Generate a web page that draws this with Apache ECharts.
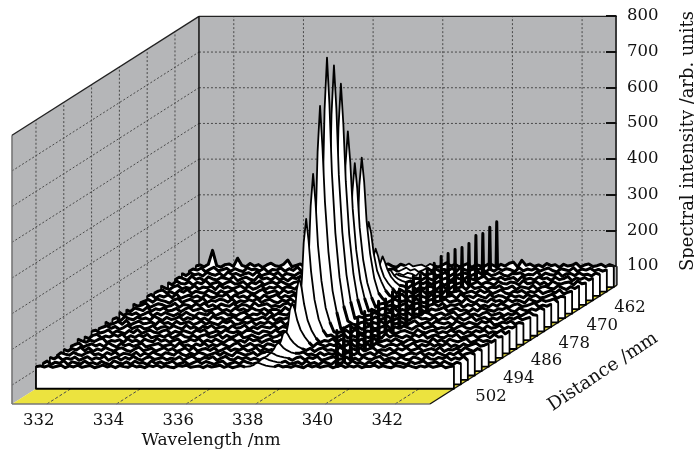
<!DOCTYPE html>
<html><head><meta charset="utf-8">
<style>html,body{margin:0;background:#fff}#c{width:694px;height:455px}</style>
<script src="https://cdn.jsdelivr.net/npm/echarts@6/dist/echarts.min.js"></script>
</head><body><div id="c"></div>
<script>
const wavelengthTicks=[332,334,336,338,340,342];
const intensityTicks=[100,200,300,400,500,600,700,800];
const distanceTicks=[502,494,486,478,470,462];
const distances=[456,458,460,462,464,466,468,470,472,474,476,478,480,482,484,486,488,490,492,494,496,498,500,502];
const wavelengths=[331,331.12,331.24,331.36,331.48,331.6,331.72,331.84,331.96,332.08,332.2,332.32,332.44,332.56,332.68,332.8,332.92,333.04,333.16,333.28,
333.4,333.52,333.64,333.76,333.88,334,334.12,334.24,334.36,334.48,334.6,334.72,334.84,334.96,335.08,335.2,335.32,335.44,335.56,335.68,
335.8,335.92,336.04,336.16,336.28,336.4,336.52,336.64,336.76,336.88,337,337.12,337.24,337.36,337.48,337.6,337.72,337.84,337.96,338.08,
338.2,338.32,338.44,338.56,338.68,338.8,338.92,339.04,339.16,339.28,339.4,339.52,339.64,339.76,339.88,340,340.12,340.24,340.36,340.48,
340.6,340.72,340.84,340.96,341.08,341.2,341.32,341.44,341.56,341.68,341.8,341.92,342.04,342.16,342.28,342.4,342.52,342.64,342.76,342.88,343];
const r456=[106,109,104,111,150,107,103,110,112,105,128,108,104,113,106,110,102,109,114,107,105,111,123,104,108,112,103,110,106,115,109,104,107,112,101,109,113,105,111,106,
103,110,108,114,104,109,112,106,102,111,107,113,105,108,110,104,112,107,103,109,115,106,111,104,108,113,102,110,107,105,112,109,104,111,106,114,117,103,122,108,
112,105,109,104,113,107,110,102,111,106,108,114,103,109,112,105,107,111,104,110,106];
const r458=[103,110,107,113,102,109,115,105,108,112,104,111,106,103,114,108,110,105,112,101,109,107,113,104,111,106,116,103,108,110,105,112,107,102,114,109,104,111,106,113,
108,103,110,115,105,107,112,104,109,111,103,108,114,106,110,102,107,113,105,111,104,109,106,112,103,115,108,105,110,107,113,102,109,104,112,106,111,108,103,114,
105,110,107,112,104,109,113,106,102,111,108,105,114,103,110,107,112,105,109,104,108];
const r460=[110,104,112,106,109,103,113,108,105,111,102,114,107,110,104,109,112,105,116,103,108,111,106,113,102,110,107,104,112,109,105,114,103,111,108,106,110,113,102,107,
112,105,109,103,114,108,106,111,104,113,107,102,110,105,112,109,103,115,106,108,111,104,107,113,102,109,105,112,110,103,108,114,106,111,104,107,113,105,102,110,
109,112,104,108,106,115,103,111,107,105,113,102,109,110,104,112,106,108,103,111,107];
const r462=[105,112,108,103,115,106,110,102,113,107,104,111,109,105,114,102,108,112,106,103,116,107,110,104,113,105,109,102,111,108,114,103,106,112,105,110,107,115,102,109,
104,113,108,106,111,103,110,114,105,107,112,102,109,104,106,108,105,113,109,104,111,107,103,114,106,110,102,112,108,105,113,107,104,110,115,103,109,106,112,105,
108,111,102,114,106,109,104,113,107,110,103,112,105,108,114,102,110,106,111,104,109];
const r464=[109,103,114,107,105,112,102,110,106,115,104,108,111,103,109,113,105,107,112,102,110,106,114,103,108,111,105,113,107,102,109,112,104,110,106,116,103,108,105,111,
113,102,107,109,104,114,106,111,103,108,112,105,110,102,107,108,109,105,114,103,110,106,112,104,108,113,102,107,111,105,109,114,103,106,112,104,110,108,102,113,
107,105,111,109,103,115,106,108,112,104,110,102,113,107,105,109,111,103,114,106,108];
const r466=[112,106,102,110,114,104,108,105,113,103,109,107,112,102,115,106,110,104,108,113,105,111,103,107,114,102,109,106,112,104,110,108,103,115,105,111,107,102,113,106,
109,104,112,108,103,110,115,105,107,111,102,113,106,104,109,107,110,103,112,106,114,102,108,105,111,109,103,113,107,104,112,106,110,102,114,105,108,111,103,109,
107,113,104,106,112,102,110,108,105,114,103,109,111,106,104,113,107,102,110,105,112];
const r468=[104,110,113,105,108,102,112,107,115,103,110,106,104,113,108,102,111,105,109,114,103,107,112,106,102,110,115,104,108,111,103,113,106,109,102,112,105,114,107,103,
110,108,115,102,106,112,104,109,113,105,107,111,103,106,108,110,112,105,103,114,107,110,102,109,113,104,106,111,108,103,115,105,109,112,102,107,110,104,113,106,
111,103,108,114,105,102,110,107,112,104,109,106,113,103,108,111,105,114,102,107,110];
const r470=[108,113,103,110,106,112,104,115,102,107,111,105,109,102,113,106,104,110,108,115,102,112,105,109,103,114,107,101,111,105,108,113,103,110,106,112,104,108,115,102,
107,110,105,113,103,109,112,106,102,114,108,104,111,107,109,105,112,103,110,106,108,114,102,109,105,112,107,103,113,106,110,104,108,111,102,115,106,109,104,112,
107,103,114,105,110,108,102,112,106,109,104,113,107,111,103,105,110,114,102,108,106];
const r472=[102,107,111,104,113,109,106,101,110,114,103,108,112,105,107,115,103,109,106,112,110,104,113,102,108,105,111,107,114,103,109,112,105,102,110,106,113,104,108,111,
103,115,107,105,110,102,109,113,104,108,106,112,103,110,107,111,105,109,114,102,108,112,105,107,110,103,114,106,102,109,112,105,108,113,104,107,110,103,115,106,
102,111,108,104,113,106,109,103,112,105,110,107,102,114,108,104,111,106,109,113,103];
const r474=[111,105,108,114,102,107,112,109,104,106,113,102,110,108,103,112,106,114,104,109,102,111,107,105,113,103,110,108,102,115,106,109,112,104,107,103,111,114,105,108,
102,110,106,113,104,112,107,103,109,111,106,113,105,108,110,112,107,104,102,111,113,105,109,103,107,112,104,110,114,106,102,108,111,105,113,103,109,107,112,102,
110,106,114,104,108,103,111,105,113,107,102,109,112,104,106,110,115,103,108,105,111];
const r476=[107,102,112,109,105,115,103,110,107,113,104,106,111,102,109,114,105,108,112,103,106,110,113,104,108,102,112,106,110,104,113,107,105,111,103,109,108,102,114,106,
110,104,112,108,105,103,113,107,111,102,109,105,112,110,108,106,113,109,104,107,102,110,112,106,114,103,108,105,111,107,113,104,102,110,106,109,114,103,108,112,
105,107,102,111,104,113,109,106,103,110,108,114,105,102,112,107,104,110,106,113,108];
const r478=[113,104,109,106,111,103,108,114,102,110,105,112,107,103,109,104,113,106,102,111,108,105,114,103,109,112,105,107,103,110,113,102,108,106,112,104,115,103,110,107,
105,112,102,109,114,106,104,108,111,103,113,107,110,104,112,105,108,106,110,103,105,112,107,104,110,113,102,109,106,112,104,108,105,113,110,102,107,111,104,109,
114,103,106,112,105,108,102,110,113,104,107,111,103,109,105,112,102,108,114,106,104];
const r480=[105,110,102,113,107,104,112,106,109,103,114,108,102,111,105,107,113,103,110,106,112,104,109,102,114,107,110,103,108,113,105,102,111,109,104,107,112,105,114,102,
109,106,110,103,107,113,105,111,104,108,103,110,112,107,102,109,111,105,108,113,110,103,106,112,104,109,114,102,107,111,105,103,110,113,106,108,104,112,102,109,
106,113,105,110,103,108,114,102,107,111,104,109,105,113,103,110,106,112,104,108,111];
const r482=[110,103,106,112,104,115,102,108,113,105,107,110,103,114,106,109,102,112,105,108,111,103,107,113,104,110,106,102,112,108,114,103,105,110,107,113,102,109,106,111,
104,108,114,102,110,105,112,103,107,109,112,104,108,106,111,103,110,107,113,105,102,108,111,104,109,106,112,103,113,105,107,110,102,108,114,104,106,111,103,112,
108,105,109,102,113,107,104,110,106,103,112,108,114,102,105,110,107,113,104,109,106];
const r484=[103,108,112,105,110,102,107,114,104,109,111,103,106,113,102,108,110,105,112,107,103,114,105,109,102,111,106,113,104,108,110,103,112,105,107,114,102,109,104,111,
108,106,113,103,110,107,102,112,105,114,108,103,110,106,112,104,109,105,103,107,113,105,110,102,108,112,104,106,110,113,103,109,105,112,107,102,110,114,104,108,
112,103,107,105,111,102,109,113,106,104,110,108,102,112,105,107,114,103,109,106,112];
const r486=[109,112,104,107,113,103,110,106,102,111,105,114,103,108,112,106,104,110,113,102,109,105,111,107,103,112,108,114,102,106,110,104,113,107,105,109,103,111,112,106,
102,110,108,104,113,105,109,103,111,107,102,108,113,104,106,110,102,112,107,105,109,111,103,114,106,102,110,107,112,104,108,113,105,103,109,111,106,102,114,107,
104,110,112,103,108,105,113,106,110,102,109,104,111,107,113,103,108,105,112,102,110];
const r488=[106,101,110,113,103,108,105,112,107,114,102,109,104,111,106,113,103,107,110,105,112,102,108,114,106,104,110,103,109,112,105,107,113,102,110,104,108,115,103,106,
111,105,102,109,112,104,107,113,103,110,105,112,108,102,113,106,110,104,108,111,103,107,114,102,109,105,112,106,104,110,108,102,113,105,111,107,103,109,104,112,
106,114,102,108,111,105,103,110,107,113,102,106,109,112,104,108,110,103,113,105,107];
const r490=[112,107,103,109,105,111,114,102,108,106,110,103,113,105,109,102,112,107,104,114,106,110,103,108,112,102,105,111,107,113,103,109,104,112,106,102,110,113,105,108,
103,114,107,110,102,108,112,104,106,111,103,109,113,105,107,110,104,112,102,108,106,113,103,111,107,104,110,105,112,102,108,114,103,106,110,105,113,107,102,109,
112,104,108,106,102,114,105,110,103,112,107,104,109,113,102,106,111,105,108,103,110];
const r492=[104,109,113,102,107,111,105,110,103,114,107,102,112,106,110,104,108,113,102,106,109,112,104,107,110,103,114,105,108,102,111,106,113,103,109,105,112,107,102,110,
114,103,106,112,105,108,102,111,109,104,113,106,102,110,107,112,105,109,103,113,108,104,110,106,112,102,107,114,104,109,105,111,103,113,107,102,108,110,105,112,
103,107,114,102,109,105,112,104,110,106,113,103,108,102,111,105,109,113,104,107,112];
const r494=[108,103,110,106,114,104,112,102,109,105,113,107,103,110,112,105,102,109,114,104,107,111,103,108,113,105,110,102,106,112,104,114,103,108,110,105,112,102,107,113,
104,109,106,111,103,107,113,102,110,105,108,112,104,110,106,103,113,108,105,111,102,109,112,105,107,103,114,108,102,110,106,112,104,109,113,103,107,105,111,102,
110,106,113,104,108,112,103,107,110,105,114,102,108,106,111,103,113,107,102,110,105];
const r496=[102,111,107,104,112,106,103,110,114,105,108,102,111,106,113,103,109,107,104,112,102,110,105,113,107,103,111,108,104,114,106,102,110,105,112,108,103,107,111,104,
112,106,102,113,109,104,107,112,103,110,113,104,108,106,110,112,107,103,109,113,105,107,102,111,104,109,106,112,103,108,113,105,110,102,107,111,104,114,106,103,
109,112,105,102,108,110,106,113,103,109,104,112,107,102,110,105,113,103,108,111,106];
const r498=[110,106,113,103,108,105,111,102,107,112,104,109,106,114,102,108,111,103,110,105,113,106,102,109,112,104,107,110,103,108,105,112,102,109,114,106,104,110,107,112,
102,108,113,105,103,111,106,110,104,108,103,112,106,110,104,108,113,105,102,109,112,103,110,107,113,102,105,109,112,104,107,111,103,108,102,112,106,104,110,113,
102,107,109,104,112,105,103,111,108,102,113,106,104,110,107,112,103,109,105,113,102];
const r500=[105,112,103,109,106,113,102,110,107,104,112,105,108,103,111,106,102,113,108,104,110,103,112,106,108,102,113,105,110,104,107,112,103,106,110,102,108,113,105,111,
107,103,109,112,102,106,110,104,113,108,105,103,112,107,102,110,105,108,112,104,106,110,103,113,105,108,102,111,107,103,112,105,109,103,113,106,108,102,110,105,
112,104,107,113,103,109,106,102,111,105,108,113,104,107,110,103,112,106,102,109,105];
const r502=[109,111,108,112,107,110,113,106,111,108,113,107,110,112,106,109,113,108,111,106,112,109,107,113,108,110,106,112,109,113,107,111,108,106,112,110,113,107,109,111,
106,112,108,110,113,107,111,106,109,112,108,113,110,107,111,109,112,106,113,108,110,107,112,109,106,113,108,111,107,110,112,106,109,113,107,111,108,112,106,110,
109,113,107,111,108,106,112,110,107,113,109,106,111,108,112,107,110,113,106,109,111];
const noiseRows=[r456,r458,r460,r462,r464,r466,r468,r470,r472,r474,r476,r478,r480,r482,r484,r486,r488,r490,r492,r494,r496,r498,r500,r502];
const ridgeWl=[337.16,337.24,337.29,337.36,337.43,337.5,337.6,337.72,337.84];
const ridgeRows=[null,null,null,
[110,113,116,121,117,115,113,110,108],
[112,124,136,148,138,128,120,114,110],
[118,150,175,195,178,158,138,124,114],
[125,168,205,229,208,178,150,132,118],
[145,215,280,316,285,230,180,150,125],
[170,300,430,509,440,330,240,170,130],
[170,295,425,506,435,325,235,170,130],
[185,350,510,607,520,390,275,190,140],
[205,430,630,753,640,480,330,220,150],
[215,465,680,817,695,510,350,230,155],
[220,480,705,851,720,530,360,235,155],
[200,420,600,728,610,460,320,210,150],
[175,330,460,550,470,350,250,175,135],
[160,270,370,436,375,290,210,155,125],
[135,190,250,284,255,210,165,135,115],
[125,165,205,226,208,178,150,130,115],
[115,132,150,159,150,138,126,116,110],
[112,122,132,139,133,125,118,112,109],
[110,114,119,123,120,116,113,110,108],
[109,114,118,121,118,115,112,109,108],
[110,113,117,120,118,115,112,110,108]];
const spikeWl=339.64;
const spikeValues=[230,227,222,229,219,220,227,228,232,225,222,218,226,221,215,220,212,218,208,214,205,200,205,210];

const I0=47,dFront=508.9,dBack=455.1,W0=331,W1=343,Itop=800;
const KX=0.09977,KY=6.19;
const SERIF='"DejaVu Serif"';
const WALL='#b5b6b8',YEL='#ece33f',GRID='#4a4a4a';

function sliceData(i){
  const pts=[];
  noiseRows[i].forEach((v,k)=>{
    const w=wavelengths[k];
    if(ridgeRows[i]&&w>337.1&&w<337.9)return;
    if(w===spikeWl){pts.push([w-0.02,v],[w,spikeValues[i]],[w+0.02,v]);return;}
    pts.push([w,v]);
  });
  if(ridgeRows[i])ridgeWl.forEach((w,k)=>pts.push([w,ridgeRows[i][k]]));
  return pts.sort((a,b)=>a[0]-b[0]);
}
function P(api,w,I,d){return api.coord([w+(dFront-d)*KX,I+(dFront-d)*KY]);}

function stageItem(params,api){
  const ch=[];
  const poly=(pts,fill)=>ch.push({type:'polygon',shape:{points:pts},style:{fill:fill}});
  const line=(a,b,stroke,lw,dash)=>ch.push({type:'line',shape:{x1:a[0],y1:a[1],x2:b[0],y2:b[1]},style:{stroke:stroke,lineWidth:lw,lineDash:dash||null}});
  poly([P(api,W0,I0,dFront),P(api,W0,I0,dBack),P(api,W0,Itop,dBack),P(api,W0,Itop,dFront)],WALL);
  poly([P(api,W0,I0,dBack),P(api,W1,I0,dBack),P(api,W1,Itop,dBack),P(api,W0,Itop,dBack)],WALL);
  poly([P(api,W0,I0,dFront),P(api,W1,I0,dFront),P(api,W1,I0,dBack),P(api,W0,I0,dBack)],YEL);
  intensityTicks.slice(0,-1).forEach(t=>{
    line(P(api,W0,t,dBack),P(api,W1,t,dBack),GRID,1,[2,2]);
    line(P(api,W0,t,dFront),P(api,W0,t,dBack),GRID,1,[2,2]);
  });
  wavelengthTicks.forEach(t=>{
    line(P(api,t,I0,dBack),P(api,t,Itop,dBack),GRID,1,[2,2]);
    line(P(api,t,I0,dFront),P(api,t,I0,dBack),GRID,1,[3,2]);
  });
  distanceTicks.forEach(t=>{
    line(P(api,W0,I0,t),P(api,W0,Itop,t),GRID,1,[2,2]);
  });
  line(P(api,W0,I0,dFront),P(api,W1,I0,dFront),'#777',1.6);
  line(P(api,W0,I0,dFront),P(api,W0,Itop,dFront),'#777',1.6);
  line(P(api,W0,Itop,dFront),P(api,W0,Itop,dBack),'#222',1.3);
  line(P(api,W0,Itop,dBack),P(api,W1,Itop,dBack),'#222',1.3);
  line(P(api,W0,I0,dBack),P(api,W0,Itop,dBack),'#111',1.5);
  line(P(api,W1,I0,dBack),P(api,W1,100,dBack),'#111',1.5);
  line(P(api,W1,I0,dFront),P(api,W1,I0,dBack),'#111',1.3);
  return {type:'group',children:ch};
}
function labelItem(params,api){
  const ch=[];
  const txt=(s,x,y,size)=>ch.push({type:'text',x:x,y:y,style:{text:s,fill:'#111',font:size+'px '+SERIF,align:'center',verticalAlign:'middle'}});
  wavelengthTicks.forEach(t=>{const p=P(api,t,I0,dFront);txt(String(t),p[0]-8,p[1]+17,16.5);});
  distanceTicks.forEach(t=>{const p=P(api,W1,I0,t);txt(String(t),p[0]+37,p[1]+7.5,16.5);});
  return {type:'group',children:ch};
}
const sliceSeries=distances.map((d,i)=>{
  const pts=sliceData(i);
  return {type:'custom',name:d+' mm',xAxisIndex:0,yAxisIndex:0,silent:true,clip:false,z:3+i,data:pts,
    encode:{x:0,y:1},
    renderItem:function(params,api){
      if(params.dataIndex!==0)return null;
      const outline=[P(api,W0,I0,d)];
      pts.forEach(q=>outline.push(P(api,q[0],q[1],d)));
      outline.push(P(api,W1,I0,d));
      const left=pts.filter(q=>q[0]<337.12).map(q=>P(api,q[0],q[1],d));
      const right=pts.filter(q=>q[0]>337.82).map(q=>P(api,q[0],q[1],d));
      const fuzz=s=>({type:'polyline',shape:{points:s},style:{fill:null,stroke:'#000',lineWidth:3,lineJoin:'round'}});
      return {type:'group',children:[
        {type:'polygon',shape:{points:outline},style:{fill:'#fff',stroke:'#000',lineWidth:1.8,lineJoin:'round'}},
        fuzz(left),fuzz(right)
      ]};
    }};
});
const option={
  animation:false,
  backgroundColor:'#fff',
  grid:[{left:12,top:16,width:605,height:388,outerBoundsMode:'none'},
        {left:199,top:16,width:417,height:250,outerBoundsMode:'none'}],
  xAxis:[{type:'value',gridIndex:0,min:331,max:348.37,show:false},
         {type:'value',gridIndex:1,min:331,max:343,show:false}],
  yAxis:[{type:'value',gridIndex:0,min:47,max:1134,show:false},
         {type:'value',gridIndex:1,min:100,max:800,interval:100,position:'right',z:20,
          name:'Spectral intensity /arb. units',nameLocation:'middle',nameGap:63,nameRotate:90,
          nameTextStyle:{fontFamily:SERIF,fontSize:17.9,color:'#111'},
          axisLine:{show:true,lineStyle:{color:'#111',width:1.5}},
          axisTick:{show:true,inside:true,length:10,lineStyle:{color:'#111',width:2}},
          axisLabel:{fontFamily:SERIF,fontSize:16.5,color:'#111',margin:11},
          splitLine:{show:false}}],
  graphic:[
    {type:'text',x:211,y:441,z:50,style:{text:'Wavelength /nm',fill:'#111',font:'17px '+SERIF,align:'center',verticalAlign:'middle'}},
    {type:'text',x:603,y:372,z:50,rotation:0.585,style:{text:'Distance /mm',fill:'#111',font:'18.3px '+SERIF,align:'center',verticalAlign:'middle'}}
  ],
  series:[
    {type:'custom',name:'stage',xAxisIndex:0,yAxisIndex:0,silent:true,clip:false,z:2,data:[[331,47]],renderItem:stageItem},
    ...sliceSeries,
    {type:'custom',name:'labels',xAxisIndex:0,yAxisIndex:0,silent:true,clip:false,z:40,data:[[331,47]],renderItem:labelItem}
  ]
};
echarts.init(document.getElementById('c')).setOption(option);
</script></body></html>
